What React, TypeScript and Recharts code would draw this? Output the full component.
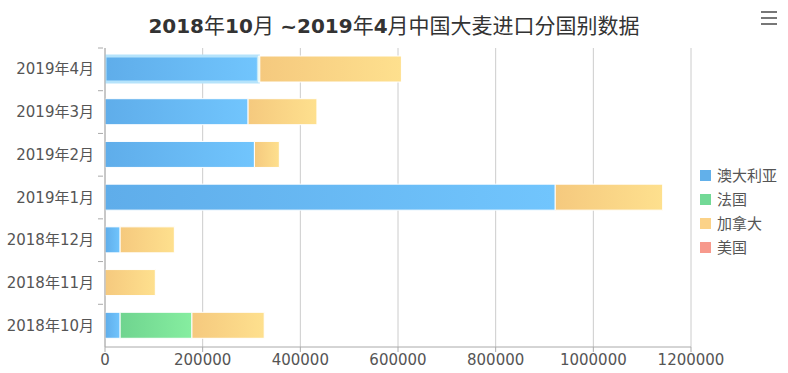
import React from 'react';
import { BarChart, Bar, XAxis, YAxis, CartesianGrid, Cell } from 'recharts';

const months = ['2018年10月', '2018年11月', '2018年12月', '2019年1月', '2019年2月', '2019年3月', '2019年4月'];
const australia = [31000, 0, 31000, 922000, 306000, 293000, 314000];
const france = [147000, 0, 0, 0, 0, 0, 3000];
const canada = [148000, 103000, 111000, 220000, 51000, 141000, 290000];
const usa = [0, 0, 0, 0, 0, 0, 0];
const xTicks = [0, 200000, 400000, 600000, 800000, 1000000, 1200000];

const seriesNames = ['澳大利亚', '法国', '加拿大', '美国'];
const legendColors = ['#62b0ea', '#72d996', '#fbd288', '#f7998c'];

const data = months.map((m, i) => ({
  month: m,
  australia: australia[i],
  france: france[i],
  canada: canada[i],
  usa: usa[i],
}));

const W = 788;
const H = 373;
const TOP = 48;
const BOTTOM_AXIS = 26;
const PLOT_H = H - TOP - BOTTOM_AXIS;
const BAND = PLOT_H / months.length;

const YTick = (props: any) => {
  const { x, y, payload } = props;
  return (
    <g>
      <line x1={x + 1} x2={x + 6} y1={y - BAND / 2} y2={y - BAND / 2} stroke="#aaa" />
      <text x={x - 3} y={y} dy={5} textAnchor="end" fill="#555" fontSize={15} fontFamily="'DejaVu Sans', 'Noto Sans CJK SC', sans-serif">
        {payload.value}
      </text>
    </g>
  );
};

export default function App() {
  return (
    <div style={{ position: 'absolute', left: 0, top: 0, width: W, height: H, background: '#fff' }}>
      <div
        style={{
          position: 'absolute',
          left: 0,
          top: 11,
          width: W,
          textAlign: 'center',
          fontSize: 20,
          color: '#333',
          fontFamily: "'DejaVu Sans', 'Noto Sans CJK SC', sans-serif",
          lineHeight: '30px',
          whiteSpace: 'nowrap',
        }}
      >
        <b>2018</b><span style={{ fontSize: 21 }}>年</span><b>10</b><span style={{ fontSize: 21 }}>月</span> <b>~</b><b>2019</b><span style={{ fontSize: 21 }}>年</span><b>4</b><span style={{ fontSize: 21 }}>月中国大麦进口分国别数据</span>
      </div>
      <div style={{ position: 'absolute', left: 761, top: 11, width: 16 }}>
        {[0, 1, 2].map((k) => (
          <div key={k} style={{ height: 2, background: '#777', marginBottom: 4 }} />
        ))}
      </div>
      <BarChart
        width={W}
        height={H}
        data={data}
        layout="vertical"
        margin={{ top: TOP, right: 97, bottom: 0, left: 0 }}
        barSize={26}
      >
        <defs>
          <linearGradient id="gAus" x1="0" y1="0" x2="1" y2="0">
            <stop offset="0%" stopColor="#5fadea" />
            <stop offset="100%" stopColor="#71c5fd" />
          </linearGradient>
          <linearGradient id="gFra" x1="0" y1="0" x2="1" y2="0">
            <stop offset="0%" stopColor="#6fd48f" />
            <stop offset="100%" stopColor="#86eea0" />
          </linearGradient>
          <linearGradient id="gCan" x1="0" y1="0" x2="1" y2="0">
            <stop offset="0%" stopColor="#f5c97e" />
            <stop offset="100%" stopColor="#fee08e" />
          </linearGradient>
          <linearGradient id="gUsa" x1="0" y1="0" x2="1" y2="0">
            <stop offset="0%" stopColor="#f28f80" />
            <stop offset="100%" stopColor="#fba99a" />
          </linearGradient>
        </defs>
        <CartesianGrid horizontal={false} vertical stroke="#ccc" />
        <XAxis
          type="number"
          domain={[0, 1200000]}
          ticks={xTicks}
          interval={0}
          height={BOTTOM_AXIS}
          stroke="#aaa"
          tickSize={5}
          tick={{ fill: '#555', fontSize: 15, fontFamily: "'DejaVu Sans', sans-serif" }}
          allowDataOverflow
        />
        <YAxis
          type="category"
          dataKey="month"
          reversed
          width={105}
          stroke="#aaa"
          tickLine={false}
          tick={<YTick />}
          interval={0}
        />
        <Bar dataKey="australia" stackId="a" fill="url(#gAus)" stroke="#fff" strokeWidth={1} isAnimationActive={false}>
          {data.map((d, i) => (
            <Cell
              key={i}
              stroke={d.month === '2019年4月' ? '#b5e3fb' : '#fff'}
              strokeWidth={d.month === '2019年4月' ? 3 : 1}
            />
          ))}
        </Bar>
        <Bar dataKey="france" stackId="a" fill="url(#gFra)" stroke="#fff" strokeWidth={1} isAnimationActive={false} />
        <Bar dataKey="canada" stackId="a" fill="url(#gCan)" stroke="#fff" strokeWidth={1} isAnimationActive={false} />
        <Bar dataKey="usa" stackId="a" fill="url(#gUsa)" stroke="#fff" strokeWidth={1} isAnimationActive={false} />
      </BarChart>
      <div style={{ position: 'absolute', left: 700, top: 163 }}>
        {seriesNames.map((n, i) => (
          <div key={n} style={{ display: 'flex', alignItems: 'center', height: 24 }}>
            <div style={{ width: 11, height: 11, background: legendColors[i], marginRight: 6 }} />
            <span style={{ fontSize: 15, color: '#555', fontFamily: "'Noto Sans CJK SC', sans-serif", lineHeight: '24px' }}>{n}</span>
          </div>
        ))}
      </div>
    </div>
  );
}
